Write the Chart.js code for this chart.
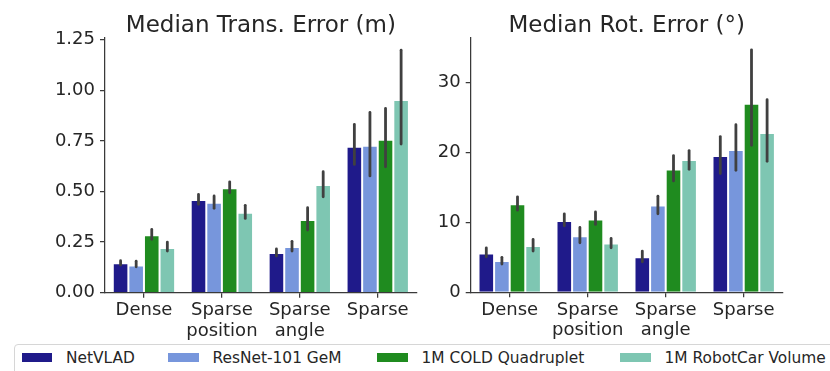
<!DOCTYPE html>
<html>
<head>
<meta charset="utf-8">
<script src="https://cdn.jsdelivr.net/npm/chart.js@4/dist/chart.umd.min.js"></script>
<style>
  html, body { margin: 0; padding: 0; background: #fff; }
  body { width: 830px; height: 371px; position: relative; overflow: hidden; font-family: "DejaVu Sans", sans-serif; }
  #leftWrap { position: absolute; left: 0; top: 0; width: 430px; height: 345px; }
  #rightWrap { position: absolute; left: 420px; top: 0; width: 410px; height: 345px; }
  #legend { position: absolute; left: 13.5px; top: 343.5px; width: 840px; height: 40px;
            border: 1px solid #d6d6d6; border-radius: 4px; box-sizing: border-box; background: #fff; }
  .sw { position: absolute; top: 8.5px; width: 30.5px; height: 9px; }
  .lt { position: absolute; top: 4px; font-size: 15.4px; color: #262626; white-space: nowrap; line-height: 18px; }
</style>
</head>
<body>
<div id="leftWrap"><canvas id="cLeft"></canvas></div>
<div id="rightWrap"><canvas id="cRight"></canvas></div>
<div id="legend"></div>
<script>
// ---------- data ----------
const categories = [["Dense"], ["Sparse", "position"], ["Sparse", "angle"], ["Sparse"]];
const seriesNames = ["NetVLAD", "ResNet-101 GeM", "1M COLD Quadruplet", "1M RobotCar Volume"];
const seriesColors = ["#1f1a8a", "#7796dc", "#1f8b1f", "#7ec6b2"];

const transTitle = "Median Trans. Error (m)";
const rotTitle = "Median Rot. Error (°)";
const transTicks = [0, 0.25, 0.5, 0.75, 1.0, 1.25];
const rotTicks = [0, 10, 20, 30];

// median translation error (m)
const transNetVLAD  = [0.145, 0.458, 0.196, 0.721];
const transResNet   = [0.135, 0.445, 0.226, 0.726];
const transCOLD     = [0.284, 0.516, 0.359, 0.756];
const transRobotCar = [0.221, 0.395, 0.532, 0.952];
// confidence intervals [low, high]
const transNetVLADci  = [[0.137, 0.158], [0.437, 0.486], [0.181, 0.216], [0.634, 0.832]];
const transResNetci   = [[0.128, 0.156], [0.417, 0.478], [0.206, 0.254], [0.577, 0.891]];
const transCOLDci     = [[0.264, 0.313], [0.494, 0.548], [0.310, 0.420], [0.622, 0.911]];
const transRobotCarci = [[0.206, 0.250], [0.367, 0.432], [0.474, 0.598], [0.735, 1.199]];

// median rotation error (deg)
const rotNetVLAD  = [5.57, 10.19, 5.0, 19.51];
const rotResNet   = [4.47, 8.04, 12.43, 20.37];
const rotCOLD     = [12.61, 10.43, 17.57, 27.0];
const rotRobotCar = [6.61, 7.0, 18.94, 22.8];
const rotNetVLADci  = [[5.09, 6.37], [9.51, 11.23], [4.37, 5.9], [17.0, 22.29]];
const rotResNetci   = [[4.04, 5.0], [7.09, 9.29], [11.23, 13.76], [17.47, 24.0]];
const rotCOLDci     = [[11.76, 13.66], [9.71, 11.51], [15.94, 19.57], [21.04, 34.71]];
const rotRobotCarci = [[5.9, 7.57], [6.37, 7.71], [17.61, 20.29], [18.76, 27.57]];

// ---------- chart helpers ----------
const FONT = "'DejaVu Sans', sans-serif";
const TEXT = "#262626";
const AXIS = "#3a3a3a";

const errorBarPlugin = {
  id: "errorBars",
  afterDatasetsDraw(chart) {
    const ctx = chart.ctx;
    const yScale = chart.scales.y;
    ctx.save();
    ctx.strokeStyle = "#404040";
    ctx.lineWidth = 2.8;
    ctx.lineCap = "round";
    chart.data.datasets.forEach((ds, di) => {
      const meta = chart.getDatasetMeta(di);
      meta.data.forEach((bar, i) => {
        const ci = ds.ci[i];
        ctx.beginPath();
        ctx.moveTo(bar.x, yScale.getPixelForValue(ci[0]));
        ctx.lineTo(bar.x, yScale.getPixelForValue(ci[1]));
        ctx.stroke();
      });
    });
    ctx.restore();
  }
};

// title centred over the plotting area (like matplotlib's axes title)
const axesTitlePlugin = {
  id: "axesTitle",
  afterDraw(chart, args, opts) {
    const ctx = chart.ctx;
    const a = chart.chartArea;
    ctx.save();
    ctx.fillStyle = TEXT;
    ctx.font = "23px " + FONT;
    ctx.textAlign = "center";
    ctx.textBaseline = "alphabetic";
    ctx.fillText(opts.text, (a.left + a.right) / 2, 32.3);
    ctx.restore();
  }
};

function makeChart(canvasId, title, values, cis, ticks, yMax, yAxisWidth, xAxisHeight, rightPad, tickFmt) {
  const datasets = values.map((v, k) => ({
    label: seriesNames[k],
    data: v,
    ci: cis[k],
    backgroundColor: seriesColors[k],
    borderColor: "rgba(255,255,255,0.75)",
    borderWidth: 1,
    borderSkipped: "bottom",
    categoryPercentage: 0.8,
    barPercentage: 1.0
  }));
  return new Chart(document.getElementById(canvasId), {
    type: "bar",
    data: { labels: categories, datasets },
    plugins: [errorBarPlugin, axesTitlePlugin],
    options: {
      responsive: true,
      maintainAspectRatio: false,
      animation: false,
      layout: { padding: { left: 0, right: rightPad, top: 38, bottom: 0 } },
      plugins: {
        legend: { display: false },
        tooltip: { enabled: false },
        title: { display: false },
        axesTitle: { text: title }
      },
      scales: {
        x: {
          grid: { display: true, drawOnChartArea: false, drawTicks: true, tickLength: 5, color: AXIS, lineWidth: 1.25, offset: false },
          border: { display: true, color: AXIS, width: 1.25 },
          ticks: { color: TEXT, font: { family: FONT, size: 18, lineHeight: 1.12 }, padding: 3, maxRotation: 0, autoSkip: false },
          afterFit(scale) { scale.height = xAxisHeight; }
        },
        y: {
          min: 0,
          max: yMax,
          grid: { display: true, drawOnChartArea: false, drawTicks: true, tickLength: 5, color: AXIS, lineWidth: 1.25 },
          border: { display: true, color: AXIS, width: 1.25 },
          ticks: { color: TEXT, font: { family: FONT, size: 18 }, padding: 5, callback: tickFmt },
          afterBuildTicks(scale) { scale.ticks = ticks.map(v => ({ value: v })); },
          afterFit(scale) { scale.width = yAxisWidth; }
        }
      }
    }
  });
}

makeChart("cLeft", transTitle,
  [transNetVLAD, transResNet, transCOLD, transRobotCar],
  [transNetVLADci, transResNetci, transCOLDci, transRobotCarci],
  transTicks, 1.259, 105, 345 - 292.7, 430 - 416.7, v => Number(v).toFixed(2));

makeChart("cRight", rotTitle,
  [rotNetVLAD, rotResNet, rotCOLD, rotRobotCar],
  [rotNetVLADci, rotResNetci, rotCOLDci, rotRobotCarci],
  rotTicks, 36.4, 50.7, 345 - 292.3, 410 - 362.7, v => String(v));

// ---------- legend (HTML, real text) ----------
const legendSwatchX = [7, 153.5, 362.5, 605.5];
const legend = document.getElementById("legend");
seriesNames.forEach((name, k) => {
  const sw = document.createElement("div");
  sw.className = "sw";
  sw.style.left = legendSwatchX[k] + "px";
  sw.style.background = seriesColors[k];
  legend.appendChild(sw);
  const t = document.createElement("div");
  t.className = "lt";
  t.style.left = (legendSwatchX[k] + 44.5) + "px";
  t.textContent = name;
  legend.appendChild(t);
});
</script>
</body>
</html>
